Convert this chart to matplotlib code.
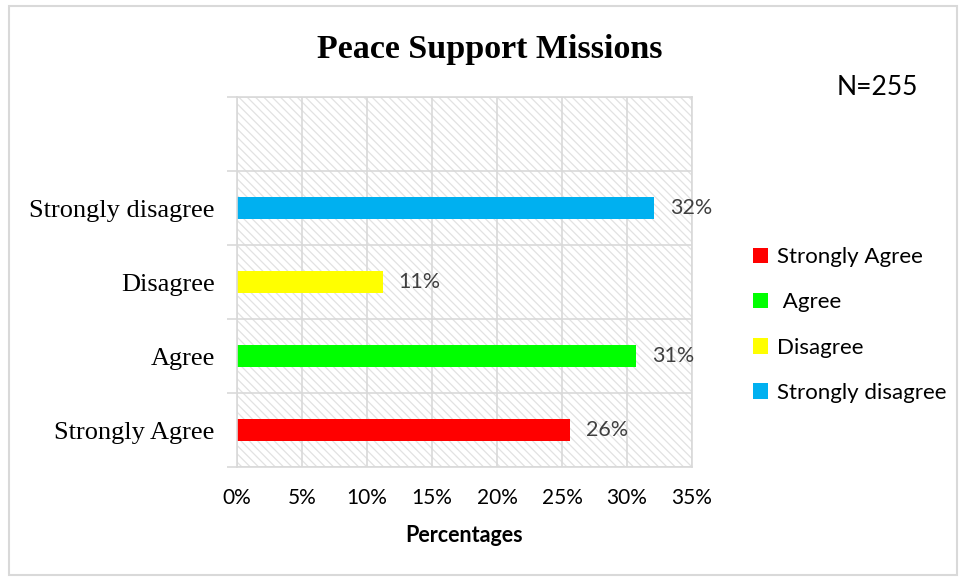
import matplotlib
matplotlib.use("Agg")
import matplotlib.pyplot as plt
from matplotlib.patches import Rectangle, Patch
from matplotlib.ticker import FixedLocator, PercentFormatter

# --- data ---
categories = ["Strongly Agree", "Agree", "Disagree", "Strongly disagree"]
legend_labels = ["Strongly Agree", " Agree", "Disagree", "Strongly disagree"]
values = [0.256, 0.307, 0.112, 0.321]
bar_labels = ["26%", "31%", "11%", "32%"]
colors = ["#FF0000", "#00FF00", "#FFFF00", "#00B0F0"]
x_ticks = [0, 0.05, 0.10, 0.15, 0.20, 0.25, 0.30, 0.35]

grid_col = "#d9d9d9"
sans = "Lato"
serif = "Liberation Serif"
plt.rcParams["hatch.linewidth"] = 0.9

fig = plt.figure(figsize=(9.59, 5.78), dpi=100)
ax = fig.add_axes([0.2471, 0.192, 0.4745, 0.6401])

# hatched plot background
ax.add_patch(Rectangle((0, 0), 1, 1, transform=ax.transAxes, facecolor="white",
                       edgecolor="#e2e2e2", hatch="\\\\\\\\", linewidth=0, zorder=0.1))

pos = list(range(len(categories)))
ax.barh(pos, values, height=0.3, color=colors, zorder=2)
for p, v, t in zip(pos, values, bar_labels):
    ax.text(v + 0.0122, p, t, va="center", ha="left", fontsize=15.5,
            color="#404040", family=sans, zorder=3)

ax.set_xlim(0, 0.35)
ax.set_ylim(-0.5, 4.5)
ax.set_xticks(x_ticks)
ax.xaxis.set_major_formatter(PercentFormatter(1.0, decimals=0))
ax.set_yticks(pos)
ax.set_yticklabels(categories, family=serif, fontsize=19)
ax.yaxis.set_minor_locator(FixedLocator([-0.5, 0.5, 1.5, 2.5, 3.5, 4.5]))

ax.set_axisbelow(True)
ax.grid(True, axis="x", which="major", color=grid_col, linewidth=1.2)
ax.grid(True, axis="y", which="minor", color=grid_col, linewidth=1.2)
ax.tick_params(axis="x", length=0, pad=15, labelsize=15)
ax.tick_params(axis="y", which="major", length=0, pad=16)
ax.tick_params(axis="y", which="minor", length=7, color=grid_col, width=1.2)
for lab in ax.get_xticklabels():
    lab.set_family(sans)
for s in ax.spines.values():
    s.set_color(grid_col)
    s.set_linewidth(1.2)

ax.set_xlabel("Percentages", family=sans, fontsize=15.5, fontweight="bold", labelpad=12)

fig.text(0.511, 0.915, "Peace Support Missions", ha="center", va="center",
         family=serif, fontsize=24.5, fontweight="bold")
fig.text(0.9145, 0.848, "N=255", ha="center", va="center", family=sans, fontsize=19)

handles = [Patch(facecolor=c, edgecolor="none") for c in colors]
fig.legend(handles, legend_labels, loc="center left", bbox_to_anchor=(0.785, 0.4377),
           frameon=False, prop={"family": sans, "size": 16}, handlelength=0.7,
           handleheight=0.7, handletextpad=0.4, labelspacing=1.13,
           borderaxespad=0, borderpad=0)

# outer chart border
fig.add_artist(Rectangle((9 / 959, 3 / 578), 948 / 959, 569 / 578, transform=fig.transFigure,
                         fill=False, edgecolor=grid_col, linewidth=1.5))

fig.savefig("out.png", dpi=100)
